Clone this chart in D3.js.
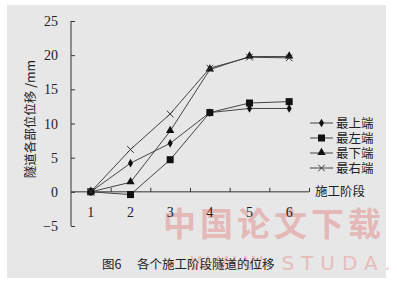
<!DOCTYPE html>
<html>
<head>
<meta charset="utf-8">
<script src="https://cdn.jsdelivr.net/npm/d3@7"></script>
<style>
  html, body { margin: 0; padding: 0; background: #fff; }
  svg { display: block; }
</style>
</head>
<body>
<div id="chart"></div>
<script>
const width = 397, height = 290;

// 数据
const stages = [1, 2, 3, 4, 5, 6];
const seriesNames = ['最上端', '最左端', '最下端', '最右端'];
const topVals = [0, 4.2, 7.1, 11.6, 12.2, 12.2];
const leftVals = [0, -0.4, 4.7, 11.6, 13.0, 13.2];
const bottomVals = [0, 1.4, 8.9, 17.9, 19.8, 19.8];
const rightVals = [0, 6.2, 11.4, 18.1, 19.7, 19.6];
const yTicks = [-5, 0, 5, 10, 15, 20, 25];
const xBoundTicks = [1.5, 2.5, 3.5, 4.5, 5.5, 6.5];

const allSeries = [
  {name: seriesNames[0], values: topVals, marker: 'diamond'},
  {name: seriesNames[1], values: leftVals, marker: 'square'},
  {name: seriesNames[2], values: bottomVals, marker: 'triangle'},
  {name: seriesNames[3], values: rightVals, marker: 'cross'}
];

const svg = d3.select('#chart').append('svg')
    .attr('width', width).attr('height', height);

// scanned paper background
svg.append('rect').attr('x', 7).attr('y', 5).attr('width', 379).attr('height', 273)
    .attr('fill', '#e7e7e7');

const x = d3.scaleLinear().domain([0.5, 6.5]).range([71, 309]);
const y = d3.scaleLinear().domain([-5, 25]).range([226, 21]);

const ink = '#333';
const serif = '"Liberation Serif", "DejaVu Serif", serif';
const cjk = '"Noto Sans CJK SC", sans-serif';

// watermark
svg.append('text').attr('x', 163).attr('y', 236)
    .attr('font-family', cjk).attr('font-size', 33).attr('font-weight', 'bold')
    .attr('fill', '#e58a8a').attr('opacity', 0.5).attr('letter-spacing', 4)
    .text('中国论文下载');
svg.append('text').attr('x', 190).attr('y', 270)
    .attr('font-family', '"DejaVu Sans", sans-serif').attr('font-size', 20)
    .attr('fill', '#e58a8a').attr('opacity', 0.45).attr('letter-spacing', 7)
    .text('WWW.STUDA.');

// y axis
const yAxis = d3.axisRight(y).tickValues(yTicks).tickSize(4).tickFormat('');
const gy = svg.append('g').attr('transform', 'translate(71,0)').call(yAxis);
gy.select('.domain').attr('stroke', ink).attr('d', 'M0,' + y(25) + 'V' + y(-5));
gy.selectAll('.tick line').attr('stroke', ink);

svg.append('g').selectAll('text').data(yTicks).enter().append('text')
    .attr('x', 58).attr('y', d => y(d) + 5)
    .attr('text-anchor', 'end')
    .attr('font-family', serif).attr('font-size', 14).attr('fill', '#222')
    .text(d => d < 0 ? '\u2212' + Math.abs(d) : d);

// x axis at zero
const xAxis = d3.axisTop(x).tickValues(xBoundTicks).tickSize(4).tickFormat('');
const gx = svg.append('g').attr('transform', 'translate(0,' + y(0) + ')').call(xAxis);
gx.select('.domain').attr('stroke', ink).attr('d', 'M' + x(0.5) + ',0H' + x(6.5));
gx.selectAll('.tick line').attr('stroke', ink);

svg.append('g').selectAll('text').data(stages).enter().append('text')
    .attr('x', d => x(d)).attr('y', 217)
    .attr('text-anchor', 'middle')
    .attr('font-family', serif).attr('font-size', 14).attr('fill', '#222')
    .text(d => d);

svg.append('text').attr('x', 315).attr('y', 196)
    .attr('font-family', cjk).attr('font-size', 12.5).attr('fill', '#222')
    .text('施工阶段');

// y title
svg.append('text')
    .attr('transform', 'translate(35,119) rotate(-90)')
    .attr('text-anchor', 'middle')
    .attr('font-family', cjk).attr('font-size', 12.5).attr('fill', '#222')
    .text('隧道各部位位移 /mm');

// caption
svg.append('text').attr('x', 102).attr('y', 269)
    .attr('font-family', cjk).attr('font-size', 12.5).attr('fill', '#222')
    .text('图6');
svg.append('text').attr('x', 137).attr('y', 269)
    .attr('font-family', cjk).attr('font-size', 12.5).attr('fill', '#222')
    .text('各个施工阶段隧道的位移');

// markers
function drawMarker(g, type, cx, cy) {
  if (type === 'diamond') {
    g.append('path').attr('d', d3.symbol(d3.symbolDiamond, 22)())
      .attr('transform', 'translate(' + cx + ',' + cy + ')').attr('fill', '#111');
  } else if (type === 'square') {
    g.append('rect').attr('x', cx - 3.5).attr('y', cy - 3.5)
      .attr('width', 7).attr('height', 7).attr('fill', '#111');
  } else if (type === 'triangle') {
    g.append('path').attr('d', d3.symbol(d3.symbolTriangle, 30)())
      .attr('transform', 'translate(' + cx + ',' + (cy - 0.5) + ')').attr('fill', '#111');
  } else {
    g.append('path').attr('d', d3.symbol(d3.symbolX, 30)())
      .attr('transform', 'translate(' + cx + ',' + cy + ')')
      .attr('fill', 'none').attr('stroke', '#333').attr('stroke-width', 1);
  }
}

const line = d3.line().x((d, i) => x(stages[i])).y(d => y(d));

allSeries.forEach(s => {
  svg.append('path').datum(s.values)
    .attr('d', line)
    .attr('fill', 'none').attr('stroke', '#444').attr('stroke-width', 1);
});
allSeries.forEach(s => {
  const g = svg.append('g');
  s.values.forEach((v, i) => drawMarker(g, s.marker, x(stages[i]), y(v)));
});

// legend
const legend = svg.append('g');
allSeries.forEach((s, i) => {
  const ly = 123 + i * 15;
  legend.append('line').attr('x1', 310).attr('x2', 333).attr('y1', ly).attr('y2', ly)
    .attr('stroke', '#444').attr('stroke-width', 1);
  drawMarker(legend, s.marker, 321.5, ly);
  legend.append('text').attr('x', 336).attr('y', ly + 4.5)
    .attr('font-family', cjk).attr('font-size', 12.5).attr('fill', '#222')
    .text(s.name);
});
</script>
</body>
</html>
